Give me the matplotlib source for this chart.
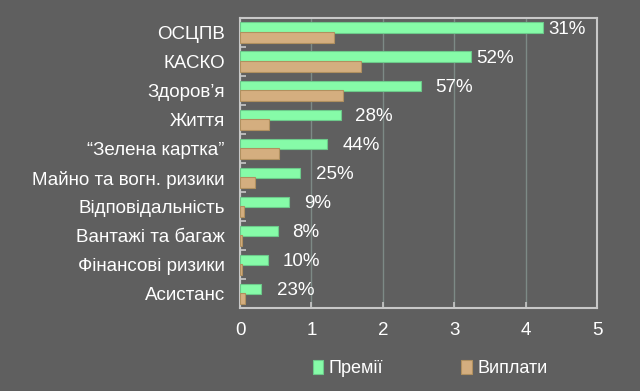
import numpy as np
import matplotlib.pyplot as plt
from matplotlib.ticker import FixedLocator

categories = ['ОСЦПВ', 'КАСКО', 'Здоров’я', 'Життя', '“Зелена картка”',
              'Майно та вогн. ризики', 'Відповідальність', 'Вантажі та багаж',
              'Фінансові ризики', 'Асистанс']
premii = [4.24, 3.23, 2.53, 1.42, 1.22, 0.84, 0.69, 0.53, 0.39, 0.29]
vyplaty = [1.31, 1.69, 1.44, 0.41, 0.54, 0.21, 0.06, 0.03, 0.03, 0.07]
shares = ['31%', '52%', '57%', '28%', '44%', '25%', '9%', '8%', '10%', '23%']
label_gap = [6, 6, 15, 14, 15, 16, 15, 14, 15, 16]  # px from bar end

bg = '#5f5f5f'
green = '#86fba8'
tan = '#d4ae7f'
plt.rcParams['font.family'] = ['Liberation Sans', 'DejaVu Sans']

fig = plt.figure(figsize=(6.4, 3.91), dpi=100, facecolor=bg)
ax = fig.add_axes([0.375, 0.212, 0.558, 0.742], facecolor=bg)

y = np.arange(len(categories))
h = 0.35
ax.barh(y - 0.17, premii, height=h, color=green, edgecolor='#6cc98a',
        linewidth=0.8, label='Премії', zorder=3)
ax.barh(y + 0.17, vyplaty, height=h, color=tan, edgecolor='#b0905f',
        linewidth=0.8, label='Виплати', zorder=3)

for i, (v, s) in enumerate(zip(premii, shares)):
    ax.annotate(s, (v, i - 0.1), xytext=(label_gap[i], 0),
                textcoords='offset pixels', va='center', ha='left',
                color='white', fontsize=13.5)

ax.set_xlim(0, 5)
ax.set_ylim(len(categories) - 0.5, -0.5)
ax.set_xticks(range(6))
ax.set_yticks(y)
ax.set_yticklabels(categories)
ax.yaxis.set_minor_locator(FixedLocator(np.arange(0.5, len(categories) - 1, 1)))
ax.tick_params(axis='y', which='major', length=0, pad=11, labelsize=13.5,
               labelcolor='white')
ax.tick_params(axis='y', which='minor', length=4, direction='in',
               color='#c8c8c8', width=1.2)
ax.tick_params(axis='x', length=4, direction='in', color='#c8c8c8', width=1.2,
               pad=10, labelsize=13.5, labelcolor='white')
ax.grid(axis='x', color='#7d8a86', linewidth=1, zorder=0)
for sp in ax.spines.values():
    sp.set_color('#c8c8c8')
    sp.set_linewidth(1.5)

fig.legend(loc='center', bbox_to_anchor=(0.672, 0.057), ncol=2, frameon=False,
           fontsize=13, labelcolor='white', handlelength=0.6, handleheight=0.75,
           handletextpad=0.3, columnspacing=4.3)

fig.savefig('out.png', dpi=100, facecolor=bg)
